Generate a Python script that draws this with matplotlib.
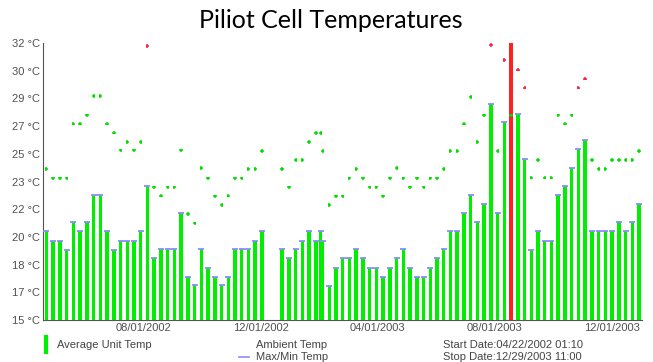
import matplotlib
matplotlib.use('Agg')
import matplotlib.pyplot as plt
import matplotlib.dates as mdates
from matplotlib.lines import Line2D
import pandas as pd

# weekly readings, week number counted from the start date (weeks 33-34 missing, one extra reading)
start = pd.Timestamp('2002-04-22')
week_no = list(range(0, 33)) + list(range(35, 41)) + [40.7] + list(range(41, 89))

avg_temp = [20.48, 19.87, 19.87, 19.31, 21.00, 20.44, 21.00, 22.68, 22.68, 20.44,
            19.31, 19.87, 19.87, 19.87, 20.48, 23.25, 18.80, 19.35, 19.35, 19.35,
            21.55, 17.67, 17.14, 19.35, 18.22, 17.67, 17.14, 17.67, 19.35, 19.35,
            19.35, 19.87, 20.44,
            19.35, 18.80, 19.35, 19.87, 20.44, 19.87,
            20.44,
            19.87, 17.09, 18.22, 18.80, 18.80, 19.35, 18.80, 18.22, 18.22, 17.67,
            18.22, 18.80, 19.35, 18.22, 17.67, 17.67, 18.22, 18.80, 19.35, 20.48,
            20.48, 21.55, 22.68, 21.00, 22.13, 28.29, 21.55, 27.15, 33.00, 27.67,
            24.87, 19.31, 20.44, 19.87, 19.87, 22.70, 23.25, 24.34, 25.51, 26.03,
            20.48, 20.48, 20.48, 20.48, 21.00, 20.48, 21.00, 22.13]

ambient_temp = [24.28, 23.70, 23.70, 23.70, 27.05, 27.05, 27.57, 28.74, 28.74, 27.05,
                26.50, 25.41, 25.92, 25.41, 25.92, 31.83, 23.15, 22.64, 23.15, 23.15,
                25.41, 21.51, 20.93, 24.32, 23.70, 22.60, 22.07, 22.64, 23.70, 23.70,
                24.28, 24.28, 25.37,
                24.28, 23.15, 24.83, 24.83, 25.92, 26.48,
                26.48,
                25.37, 22.07, 22.60, 22.60, 23.70, 24.28, 23.70, 23.15, 23.15, 22.60,
                23.70, 24.32, 23.70, 23.15, 23.70, 23.15, 23.70, 23.70, 24.28, 25.37,
                25.37, 27.05, 28.70, 25.92, 27.57, 31.88, 25.37, 30.95, 27.57, 30.37,
                29.26, 23.73, 24.83, 23.73, 23.73, 27.57, 27.05, 27.57, 29.26, 29.81,
                24.83, 24.28, 24.28, 24.83, 24.83, 24.83, 24.83, 25.37]

y_ticks = [15.0, 16.7, 18.4, 20.1, 21.8, 23.5, 25.2, 26.9, 28.6, 30.3, 32.0]
y_labels = ['15 °C', '17 °C', '18 °C', '20 °C', '22 °C', '23 °C', '25 °C',
            '27 °C', '29 °C', '30 °C', '32 °C']
x_ticks = ['2002-08-01', '2002-12-01', '2003-04-01', '2003-08-01', '2003-12-01']
alarm = 29.0

dates = [start + pd.Timedelta(days=7 * w) for w in week_no]
bar_colors = ['#ff2020' if t > alarm else '#00ee00' for t in avg_temp]
amb_colors = ['#ff2040' if t > alarm else '#00e000' for t in ambient_temp]

plt.rcParams['font.family'] = ['Liberation Sans', 'DejaVu Sans']
fig = plt.figure(figsize=(6.53, 3.62), dpi=100)
ax = fig.add_axes([0.066, 0.116, 0.917, 0.765])

ax.bar(dates, avg_temp, width=3.6, color=bar_colors, zorder=2)
ax.plot(dates, avg_temp, ls='none', marker='_', ms=4.5, mew=1.3, color='#8c8cff', zorder=3)
ax.scatter(dates, ambient_temp, marker='+', s=6, c=amb_colors, linewidths=1.1, zorder=4)

ax.set_ylim(15, 32)
ax.set_xlim(start - pd.Timedelta(days=3.5), dates[-1] + pd.Timedelta(days=3))
ax.set_yticks(y_ticks)
ax.set_yticklabels(y_labels)
ax.set_xticks(pd.to_datetime(x_ticks))
ax.xaxis.set_major_formatter(mdates.DateFormatter('%m/%d/%Y'))
ax.tick_params(length=0, labelsize=8, labelcolor='#505050', pad=2)
for s in ['top', 'right']:
    ax.spines[s].set_visible(False)
for s in ['left', 'bottom']:
    ax.spines[s].set_color('#555555')
    ax.spines[s].set_linewidth(0.8)

fig.text(0.506, 0.943, 'Piliot Cell Temperatures', ha='center', va='center',
         fontsize=18, family='Lato', color='black')

# legend row at the bottom
fig.add_artist(Line2D([0.070, 0.070], [0.028, 0.068], color='#00ee00', lw=3))
fig.text(0.087, 0.047, 'Average Unit Temp', fontsize=8, color='#444444', va='center')
fig.text(0.392, 0.047, 'Ambient Temp', fontsize=8, color='#444444', va='center')
fig.add_artist(Line2D([0.366, 0.381], [0.013, 0.013], color='#8c8cff', lw=1.2))
fig.text(0.392, 0.013, 'Max/Min Temp', fontsize=8, color='#444444', va='center')
fig.text(0.678, 0.047, 'Start Date:04/22/2002 01:10', fontsize=8, color='#444444', va='center')
fig.text(0.678, 0.013, 'Stop Date:12/29/2003 11:00', fontsize=8, color='#444444', va='center')

fig.savefig('out.png', dpi=100, facecolor='white')
